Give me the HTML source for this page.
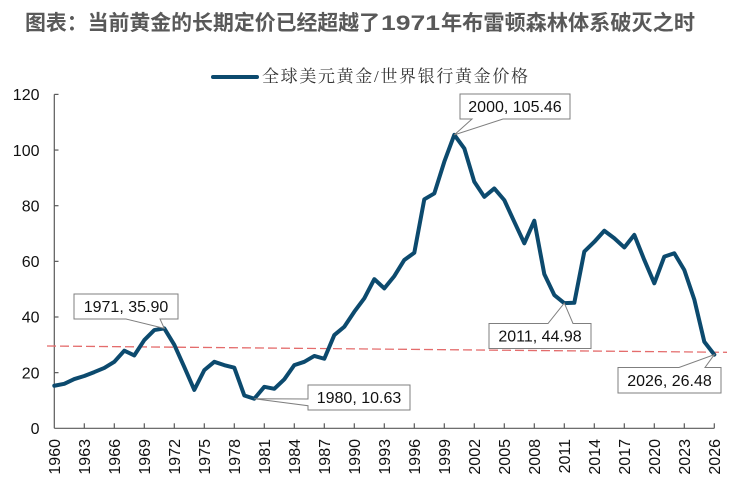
<!DOCTYPE html>
<html>
<head>
<meta charset="utf-8">
<style>
  html, body { margin: 0; padding: 0; background: #ffffff; }
  body { width: 744px; height: 489px; overflow: hidden; }
  svg { display: block; }
  .num { font-family: "Liberation Sans", Arial, sans-serif; font-size: 16px; fill: #111111; }
</style>
</head>
<body>
<svg width="744" height="489" viewBox="0 0 744 489" xmlns="http://www.w3.org/2000/svg">
  <rect x="0" y="0" width="744" height="489" fill="#ffffff"/>

  <!-- Title -->
  <text y="30" font-family="'Liberation Sans', 'Noto Sans CJK SC', sans-serif" font-size="21" font-weight="bold" fill="#595959">
    <tspan x="25" textLength="355" lengthAdjust="spacingAndGlyphs">图表：当前黄金的长期定价已经超越了</tspan><tspan x="381" textLength="59" lengthAdjust="spacingAndGlyphs">1971</tspan><tspan x="441" textLength="254" lengthAdjust="spacingAndGlyphs">年布雷顿森林体系破灭之时</tspan>
  </text>

  <!-- Legend -->
  <line x1="213" y1="77" x2="257" y2="77" stroke="#0c4a6e" stroke-width="4" stroke-linecap="round"/>
  <text x="262" y="82" font-family="'Liberation Serif', 'Noto Serif CJK SC', serif" font-size="17" fill="#333333" textLength="266" lengthAdjust="spacing">全球美元黄金/世界银行黄金价格</text>

  <!-- Axes -->
  <g stroke="#595959" stroke-width="1.2" fill="none">
    <line x1="54.3" y1="94.4" x2="54.3" y2="428.3"/>
    <line x1="54.3" y1="428.3" x2="714.3" y2="428.3"/>
    <line x1="54.3" y1="94.4" x2="58.5" y2="94.4"/>
    <line x1="54.3" y1="150.05" x2="58.5" y2="150.05"/>
    <line x1="54.3" y1="205.7" x2="58.5" y2="205.7"/>
    <line x1="54.3" y1="261.35" x2="58.5" y2="261.35"/>
    <line x1="54.3" y1="317.0" x2="58.5" y2="317.0"/>
    <line x1="54.3" y1="372.65" x2="58.5" y2="372.65"/>
    <line x1="84.3" y1="428.3" x2="84.3" y2="423.3"/>
    <line x1="114.3" y1="428.3" x2="114.3" y2="423.3"/>
    <line x1="144.3" y1="428.3" x2="144.3" y2="423.3"/>
    <line x1="174.3" y1="428.3" x2="174.3" y2="423.3"/>
    <line x1="204.3" y1="428.3" x2="204.3" y2="423.3"/>
    <line x1="234.3" y1="428.3" x2="234.3" y2="423.3"/>
    <line x1="264.3" y1="428.3" x2="264.3" y2="423.3"/>
    <line x1="294.3" y1="428.3" x2="294.3" y2="423.3"/>
    <line x1="324.3" y1="428.3" x2="324.3" y2="423.3"/>
    <line x1="354.3" y1="428.3" x2="354.3" y2="423.3"/>
    <line x1="384.3" y1="428.3" x2="384.3" y2="423.3"/>
    <line x1="414.3" y1="428.3" x2="414.3" y2="423.3"/>
    <line x1="444.3" y1="428.3" x2="444.3" y2="423.3"/>
    <line x1="474.3" y1="428.3" x2="474.3" y2="423.3"/>
    <line x1="504.3" y1="428.3" x2="504.3" y2="423.3"/>
    <line x1="534.3" y1="428.3" x2="534.3" y2="423.3"/>
    <line x1="564.3" y1="428.3" x2="564.3" y2="423.3"/>
    <line x1="594.3" y1="428.3" x2="594.3" y2="423.3"/>
    <line x1="624.3" y1="428.3" x2="624.3" y2="423.3"/>
    <line x1="654.3" y1="428.3" x2="654.3" y2="423.3"/>
    <line x1="684.3" y1="428.3" x2="684.3" y2="423.3"/>
    <line x1="714.3" y1="428.3" x2="714.3" y2="423.3"/>
  </g>

  <!-- Y labels -->
  <g class="num" text-anchor="end">
    <text x="39.5" y="100.1">120</text>
    <text x="39.5" y="155.8">100</text>
    <text x="39.5" y="211.4">80</text>
    <text x="39.5" y="267.1">60</text>
    <text x="39.5" y="322.7">40</text>
    <text x="39.5" y="378.4">20</text>
    <text x="39.5" y="434.0">0</text>
  </g>

  <!-- X labels (rotated) -->
  <g class="num" text-anchor="end" font-size="15.5">
    <text transform="translate(60,439) rotate(-90)">1960</text>
    <text transform="translate(90,439) rotate(-90)">1963</text>
    <text transform="translate(120,439) rotate(-90)">1966</text>
    <text transform="translate(150,439) rotate(-90)">1969</text>
    <text transform="translate(180,439) rotate(-90)">1972</text>
    <text transform="translate(210,439) rotate(-90)">1975</text>
    <text transform="translate(240,439) rotate(-90)">1978</text>
    <text transform="translate(270,439) rotate(-90)">1981</text>
    <text transform="translate(300,439) rotate(-90)">1984</text>
    <text transform="translate(330,439) rotate(-90)">1987</text>
    <text transform="translate(360,439) rotate(-90)">1990</text>
    <text transform="translate(390,439) rotate(-90)">1993</text>
    <text transform="translate(420,439) rotate(-90)">1996</text>
    <text transform="translate(450,439) rotate(-90)">1999</text>
    <text transform="translate(480,439) rotate(-90)">2002</text>
    <text transform="translate(510,439) rotate(-90)">2005</text>
    <text transform="translate(540,439) rotate(-90)">2008</text>
    <text transform="translate(570,439) rotate(-90)">2011</text>
    <text transform="translate(600,439) rotate(-90)">2014</text>
    <text transform="translate(630,439) rotate(-90)">2017</text>
    <text transform="translate(660,439) rotate(-90)">2020</text>
    <text transform="translate(690,439) rotate(-90)">2023</text>
    <text transform="translate(720,439) rotate(-90)">2026</text>
  </g>

  <!-- Red dashed reference line -->
  <line x1="47" y1="346" x2="727" y2="352.3" stroke="#e46c6c" stroke-width="1.3" stroke-dasharray="9 4"/>

  <!-- Series -->
  <polyline fill="none" stroke="#0c4a6e" stroke-width="4" stroke-linejoin="round" stroke-linecap="round"
    points="54.3,385.73 64.3,383.78 74.3,379.05 84.3,375.99 94.3,372.09 104.3,367.92 114.3,361.80 124.3,350.67 134.3,355.40 144.3,340.09 154.3,330.08 164.3,328.41 174.3,344.82 184.3,367.08 194.3,389.90 204.3,370.15 214.3,361.80 224.3,365.14 234.3,367.64 244.3,395.47 254.3,398.72 264.3,386.84 274.3,388.79 284.3,379.33 294.3,365.14 304.3,361.80 314.3,355.95 324.3,358.74 334.3,335.09 344.3,326.74 354.3,311.71 364.3,298.36 374.3,279.16 384.3,288.34 394.3,276.10 404.3,259.96 414.3,252.72 424.3,199.30 434.3,193.46 444.3,161.74 454.3,134.86 464.3,148.38 474.3,181.77 484.3,196.80 494.3,188.45 504.3,200.13 514.3,221.84 524.3,243.26 534.3,220.73 544.3,274.15 554.3,295.02 564.3,303.14 574.3,302.81 584.3,251.61 594.3,241.87 604.3,230.74 614.3,238.26 624.3,247.44 634.3,234.92 644.3,259.96 654.3,283.33 664.3,256.62 674.3,253.28 684.3,269.98 694.3,299.47 704.3,341.76 714.3,354.62"/>

  <!-- Callouts -->
  <g fill="#ffffff" stroke="#7f7f7f" stroke-width="1">
    <path d="M74,294 H178 V319 H160 L164.3,328.4 L126,319 H74 Z"/>
    <path d="M308,385 H410 V410 H308 V405.7 L254.3,398.7 L308,399 Z"/>
    <path d="M460,94 H570 V119 H503 L454.3,134.9 L472,119 H460 Z"/>
    <path d="M489,323.5 H548 L564.3,303.1 L573,323.5 H591 V348.5 H489 Z"/>
    <path d="M618,367.5 H679 L714.3,354.6 L705,367.5 H721 V393 H618 Z"/>
  </g>
  <g class="num" text-anchor="middle">
    <text x="126" y="312.2">1971, 35.90</text>
    <text x="359" y="403.2">1980, 10.63</text>
    <text x="515" y="112.2">2000, 105.46</text>
    <text x="540" y="341.7">2011, 44.98</text>
    <text x="669.5" y="386">2026, 26.48</text>
  </g>
</svg>
</body>
</html>
